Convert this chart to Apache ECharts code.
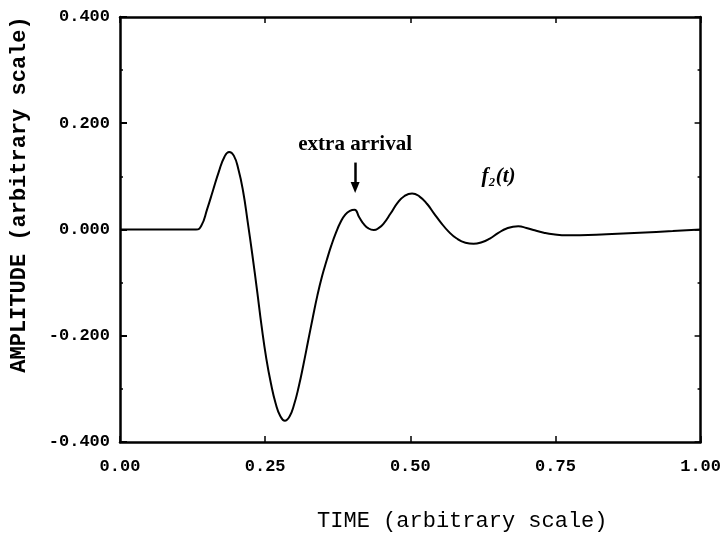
<!DOCTYPE html>
<html>
<head>
<meta charset="utf-8">
<title>f2(t) amplitude</title>
<script src="https://cdn.jsdelivr.net/npm/echarts@6/dist/echarts.min.js"></script>
<style>
  html, body { margin: 0; padding: 0; background: #ffffff; }
  #chart { width: 724px; height: 540px; }
</style>
</head>
<body>
<div id="chart"></div>
<script>
// Waveform f2(t): time samples and amplitudes
const timeValues = [
  0.000, 0.050, 0.100, 0.131, 0.140, 0.150, 0.160, 0.170, 0.180, 0.188,
  0.196, 0.204, 0.212, 0.220, 0.228, 0.236, 0.244, 0.252, 0.260, 0.268,
  0.276, 0.284, 0.292, 0.300, 0.308, 0.316, 0.324, 0.332, 0.340, 0.348,
  0.356, 0.364, 0.372, 0.380, 0.388, 0.396, 0.404, 0.412, 0.420, 0.428,
  0.437, 0.446, 0.454, 0.466, 0.478, 0.490, 0.503, 0.516, 0.529, 0.541,
  0.552, 0.566, 0.580, 0.595, 0.609, 0.623, 0.637, 0.651, 0.666, 0.686,
  0.700, 0.712, 0.730, 0.746, 0.770, 0.792, 0.838, 0.895, 0.952, 1.000
];
const amplitudeValues = [
  0.000, 0.000, 0.000, 0.000, 0.007, 0.038, 0.073, 0.108, 0.137, 0.146,
  0.139, 0.113, 0.072, 0.014, -0.048, -0.114, -0.183, -0.243, -0.290, -0.327,
  -0.351, -0.360, -0.352, -0.329, -0.295, -0.254, -0.210, -0.166, -0.124, -0.088,
  -0.058, -0.030, -0.006, 0.014, 0.028, 0.035, 0.037, 0.023, 0.010, 0.002,
  -0.001, 0.003, 0.011, 0.030, 0.050, 0.063, 0.068, 0.062, 0.048, 0.030,
  0.014, -0.004, -0.017, -0.025, -0.027, -0.024, -0.017, -0.007, 0.002, 0.006,
  0.003, -0.001, -0.006, -0.009, -0.011, -0.011, -0.009, -0.006, -0.003, 0.000
];

// Axis ranges and tick spacing
const timeRange = [0, 1];
const timeStep = 0.25;
const ampRange = [-0.4, 0.4];
const ampStep = 0.2;

// Annotation anchors (data space)
const arrivalLabel = { text: 'extra arrival', t: 0.405, a: 0.159 };
const arrivalArrow = { t: 0.405, from: 0.126, to: 0.079 };
const curveLabel = { text: 'f\u2082(t)', t: 0.652, a: 0.099 };

const mono = '"Liberation Mono", "DejaVu Sans Mono", monospace';
const serif = '"Liberation Serif", "DejaVu Serif", serif';
const ink = '#000000';

const chart = echarts.init(document.getElementById('chart'), null, { renderer: 'canvas' });

const frameAxisLine = { show: true, onZero: false, lineStyle: { color: ink, width: 2.5 } };

const option = {
  backgroundColor: '#ffffff',
  animation: false,
  grid: { left: 119, right: 22, top: 17, bottom: 98, containLabel: false },
  xAxis: [
    {
      type: 'value', position: 'bottom',
      min: timeRange[0], max: timeRange[1], interval: timeStep,
      axisLine: frameAxisLine,
      axisTick: { show: true, inside: true, length: 6, lineStyle: { color: ink, width: 1.5 } },
      splitLine: { show: false },
      axisLabel: {
        show: true, margin: 16, color: ink, fontFamily: mono, fontSize: 17, fontWeight: 'bold',
        showMinLabel: true, showMaxLabel: true,
        formatter: v => v.toFixed(2)
      },
      name: 'TIME (arbitrary scale)',
      nameLocation: 'middle', nameGap: 68,
      nameTextStyle: { color: ink, fontFamily: mono, fontSize: 22, padding: [0, 0, 0, 104] }
    },
    {
      type: 'value', position: 'top',
      min: timeRange[0], max: timeRange[1], interval: timeStep,
      axisLine: frameAxisLine,
      axisTick: { show: true, inside: true, length: 6, lineStyle: { color: ink, width: 1.5 } },
      splitLine: { show: false },
      axisLabel: { show: false }
    }
  ],
  yAxis: [
    {
      type: 'value', position: 'left',
      min: ampRange[0], max: ampRange[1], interval: ampStep,
      axisLine: frameAxisLine,
      axisTick: { show: true, inside: true, length: 7, lineStyle: { color: ink, width: 2 } },
      minorTick: { show: true, splitNumber: 2, length: 3, lineStyle: { color: ink, width: 1.5 } },
      splitLine: { show: false },
      axisLabel: {
        show: true, margin: 10, color: ink, fontFamily: mono, fontSize: 17, fontWeight: 'bold',
        showMinLabel: true, showMaxLabel: true,
        formatter: v => v.toFixed(3)
      },
      name: 'AMPLITUDE (arbitrary scale)',
      nameLocation: 'middle', nameRotate: 90, nameGap: 90,
      nameTextStyle: { color: ink, fontFamily: mono, fontSize: 22, fontWeight: 'bold', padding: [0, 0, 0, 70] }
    },
    {
      type: 'value', position: 'right',
      min: ampRange[0], max: ampRange[1], interval: ampStep,
      axisLine: frameAxisLine,
      axisTick: { show: true, inside: true, length: 6, lineStyle: { color: ink, width: 1.5 } },
      minorTick: { show: true, splitNumber: 2, length: 3, lineStyle: { color: ink, width: 1.5 } },
      splitLine: { show: false },
      axisLabel: { show: false }
    }
  ],
  series: [
    {
      type: 'line',
      xAxisIndex: 0, yAxisIndex: 0,
      data: timeValues.map((t, i) => [t, amplitudeValues[i]]),
      smooth: 0.5,
      showSymbol: false,
      symbol: 'none',
      lineStyle: { color: ink, width: 2 },
      silent: true,
      markLine: {
        silent: true,
        symbol: ['none', 'triangle'],
        symbolSize: [9, 11],
        symbolRotate: 180,
        label: { show: false },
        lineStyle: { color: ink, width: 2.5, type: 'solid' },
        data: [[
          { coord: [arrivalArrow.t, arrivalArrow.from] },
          { coord: [arrivalArrow.t, arrivalArrow.to] }
        ]]
      },
      markPoint: {
        silent: true,
        symbol: 'circle', symbolSize: 0,
        data: [
          {
            coord: [arrivalLabel.t, arrivalLabel.a], value: arrivalLabel.text,
            label: {
              show: true, position: 'inside', formatter: arrivalLabel.text,
              color: ink, fontFamily: serif, fontSize: 21, fontWeight: 'bold'
            }
          },
          {
            coord: [curveLabel.t, curveLabel.a], value: curveLabel.text,
            label: {
              show: true, position: 'inside', formatter: curveLabel.text,
              color: ink, fontFamily: serif, fontSize: 21, fontStyle: 'italic', fontWeight: 'bold'
            }
          }
        ]
      }
    }
  ]
};

chart.setOption(option);
</script>
</body>
</html>
